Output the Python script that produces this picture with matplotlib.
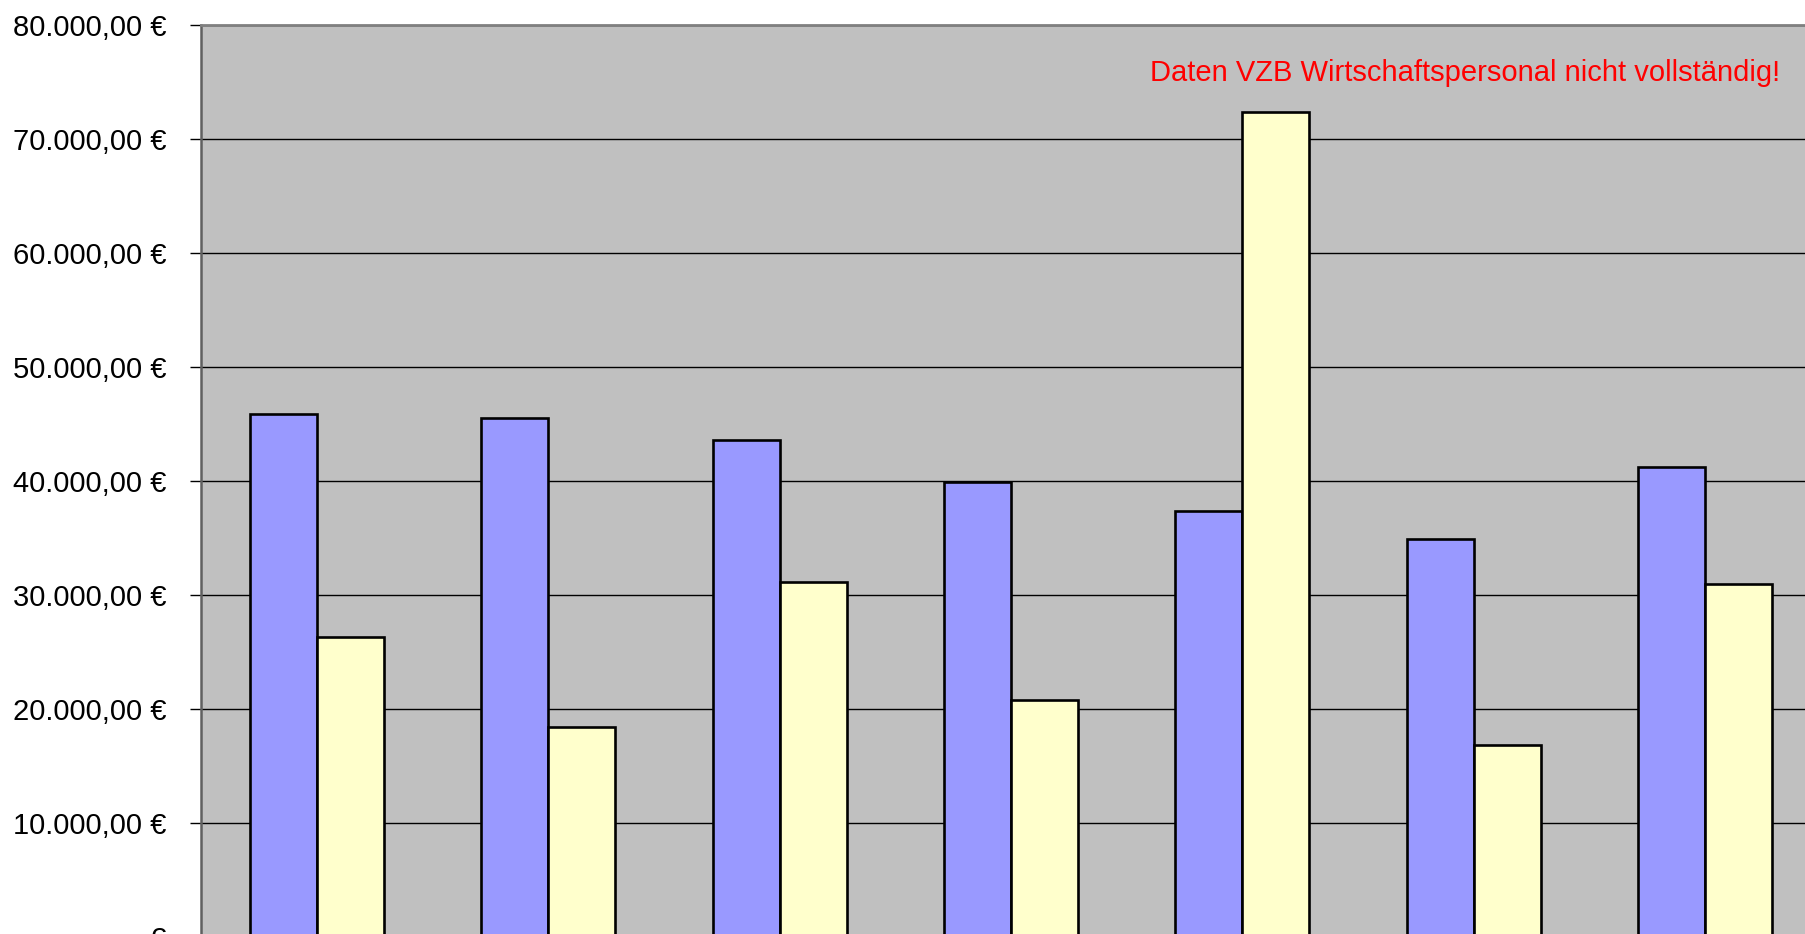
import matplotlib
matplotlib.use("Agg")
import matplotlib.pyplot as plt
from matplotlib.ticker import FuncFormatter, MultipleLocator

plt.rcParams['font.family'] = ['Liberation Sans', 'DejaVu Sans']

categories = ["1", "2", "3", "4", "5", "6", "7"]
series_blue = [45900, 45500, 43600, 39900, 37400, 34900, 41200]
series_yellow = [26300, 18400, 31100, 20800, 72400, 16800, 31000]
note_text = "Daten VZB Wirtschaftspersonal nicht vollständig!"

W, H = 1805, 934
fig = plt.figure(figsize=(W / 100, H / 100), dpi=100)
pitch = 231.4
left_px, top_px, bottom_px = 201, 25, 937
ncat = len(categories)
ax = fig.add_axes([left_px / W, (H - bottom_px) / H, ncat * pitch / W, (bottom_px - top_px) / H])
ax.set_facecolor('#C0C0C0')

bw = 67 / pitch
xs = [i + 0.5 for i in range(ncat)]
ax.bar([x - bw for x in xs], series_blue, width=bw, align='edge', color='#9999FF',
       edgecolor='black', linewidth=1.9, zorder=3)
ax.bar(xs, series_yellow, width=bw, align='edge', color='#FFFFCC',
       edgecolor='black', linewidth=1.9, zorder=3)

ax.set_xlim(0, ncat)
ax.set_ylim(0, 80000)
ax.yaxis.set_major_locator(MultipleLocator(10000))

def de_fmt(v, pos):
    if abs(v) < 1e-9:
        return "-   €"
    s = f"{v:,.2f}".replace(",", "X").replace(".", ",").replace("X", ".")
    return s + " €"

ax.yaxis.set_major_formatter(FuncFormatter(de_fmt))
ax.grid(axis='y', color='black', linewidth=1.0, zorder=1)
ax.set_axisbelow(True)
ax.tick_params(axis='y', length=8, width=1.0, pad=17, labelsize=21, color='black')
ax.tick_params(axis='x', length=0, labelbottom=False)

for s in ['right', 'bottom']:
    ax.spines[s].set_visible(False)
ax.spines['left'].set_color('#606060')
ax.spines['left'].set_linewidth(1.8)
ax.spines['top'].set_color('#808080')
ax.spines['top'].set_linewidth(2.0)

fig.text(1780 / W, 1 - 73 / H, note_text, color='#FF0000', fontsize=21,
         ha='right', va='center')

fig.savefig("out.png", dpi=100)
